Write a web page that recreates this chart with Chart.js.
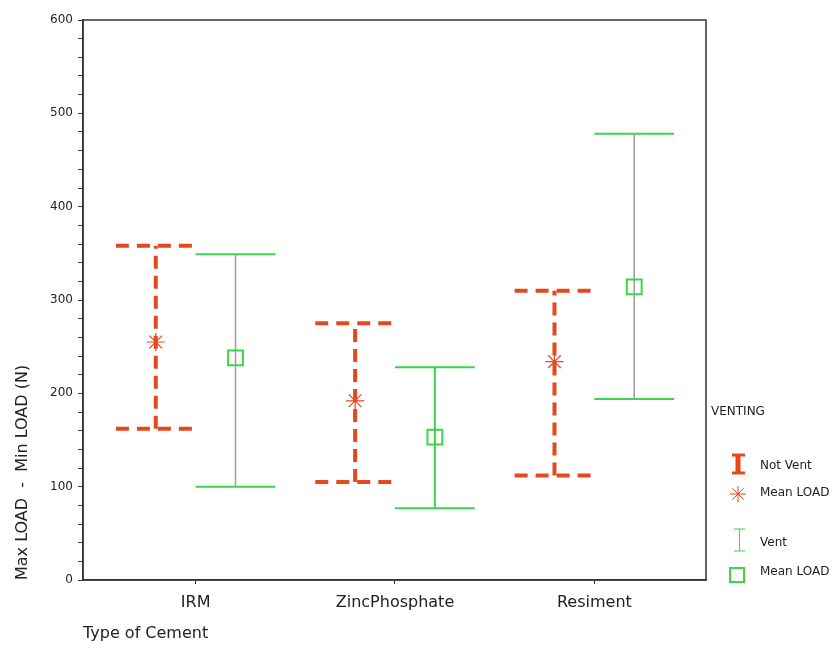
<!DOCTYPE html>
<html>
<head>
<meta charset="utf-8">
<script src="https://cdn.jsdelivr.net/npm/chart.js@4/dist/chart.umd.min.js"></script>
<style>
  html, body { margin: 0; padding: 0; background: #fff; }
  #wrap { width: 837px; height: 671px; position: relative; }
</style>
</head>
<body>
<div id="wrap"><canvas id="chart"></canvas></div>
<script>
// values (N)
const categories = ["IRM", "ZincPhosphate", "Resiment"];
const notVentMean = [255, 192, 234];
const notVentHigh = [358, 275, 310];
const notVentLow = [162, 105, 112];
const ventMean = [238, 153, 314];
const ventHigh = [349, 228, 478];
const ventLow = [100, 77, 194];
const yTicks = [0, 100, 200, 300, 400, 500, 600];

const ORANGE = "#e6481d";
const GREEN = "#3cd44a";
const GREY = "#9c9c9c";
const FONT = "'DejaVu Sans', Verdana, sans-serif";

// x offset of each series inside a category, and half width of the caps
const OFF = 0.2;
const CAP = 0.2;

function stems(off, lows, highs) {
  const pts = [];
  categories.forEach((c, i) => {
    pts.push({ x: i + off, y: lows[i] }, { x: i + off, y: highs[i] }, { x: i + off, y: null });
  });
  return pts;
}
function caps(off, lows, highs) {
  const pts = [];
  categories.forEach((c, i) => {
    [highs[i], lows[i]].forEach(v => {
      pts.push({ x: i + off - CAP, y: v }, { x: i + off + CAP, y: v }, { x: i + off, y: null });
    });
  });
  return pts;
}
function means(off, vals) {
  return vals.map((v, i) => ({ x: i + off, y: v }));
}

// zinc phosphate stem is green, the others grey
const ventStemColor = ctx => (Math.floor(ctx.p0DataIndex / 3) === 1 ? GREEN : GREY);
const ventStemWidth = ctx => (Math.floor(ctx.p0DataIndex / 3) === 1 ? 2 : 1.5);

const framePlugin = {
  id: "frame",
  afterDraw(chart) {
    const { ctx, chartArea: a } = chart;
    ctx.save();
    ctx.strokeStyle = "#333";
    ctx.lineWidth = 1.5;
    ctx.strokeRect(a.left, a.top, a.right - a.left, a.bottom - a.top);
    ctx.restore();
  }
};

const legendPlugin = {
  id: "ventLegend",
  afterDraw(chart) {
    const ctx = chart.ctx;
    ctx.save();
    ctx.fillStyle = "#222";
    ctx.font = "12px " + FONT;
    ctx.textBaseline = "middle";
    ctx.textAlign = "left";
    ctx.fillText("VENTING", 711, 412);

    const tx = 760;
    // not vent bar
    ctx.strokeStyle = ORANGE;
    ctx.lineWidth = 5;
    ctx.beginPath();
    ctx.moveTo(738, 455); ctx.lineTo(738, 474);
    ctx.stroke();
    ctx.lineWidth = 3;
    ctx.beginPath();
    ctx.moveTo(732, 455); ctx.lineTo(745, 455);
    ctx.moveTo(732, 473); ctx.lineTo(745, 473);
    ctx.stroke();
    ctx.fillText("Not Vent", tx, 466);

    // star
    ctx.lineWidth = 1;
    ctx.beginPath();
    const r = 8;
    for (let k = 0; k < 4; k++) {
      const ang = k * Math.PI / 4;
      ctx.moveTo(738 - r * Math.cos(ang), 494 - r * Math.sin(ang));
      ctx.lineTo(738 + r * Math.cos(ang), 494 + r * Math.sin(ang));
    }
    ctx.stroke();
    ctx.fillText("Mean LOAD", tx, 493);

    // vent bar
    ctx.strokeStyle = GREEN;
    ctx.lineWidth = 1;
    ctx.beginPath();
    ctx.moveTo(734, 529); ctx.lineTo(745, 529);
    ctx.moveTo(734, 551); ctx.lineTo(745, 551);
    ctx.stroke();
    ctx.strokeStyle = GREY;
    ctx.beginPath();
    ctx.moveTo(739.5, 529); ctx.lineTo(739.5, 551);
    ctx.stroke();
    ctx.fillText("Vent", tx, 543);

    // square
    ctx.strokeStyle = GREEN;
    ctx.lineWidth = 2;
    ctx.strokeRect(730, 568, 14, 14);
    ctx.fillText("Mean LOAD", tx, 572);
    ctx.restore();
  }
};

new Chart(document.getElementById("chart"), {
  type: "line",
  data: {
    datasets: [
      {
        label: "Mean LOAD (Not Vent)",
        data: means(-OFF, notVentMean),
        showLine: false,
        pointStyle: "star",
        pointRadius: 9,
        pointBorderWidth: 1.2,
        borderColor: ORANGE,
        backgroundColor: ORANGE,
      },
      {
        label: "Mean LOAD (Vent)",
        data: means(OFF, ventMean),
        showLine: false,
        pointStyle: "rect",
        pointRadius: 10.5,
        pointBorderWidth: 2,
        borderColor: GREEN,
        backgroundColor: "rgba(0,0,0,0)",
      },
      {
        label: "Not Vent stems",
        data: stems(-OFF, notVentLow, notVentHigh),
        borderColor: ORANGE,
        borderWidth: 4,
        borderDash: [13, 7],
        pointRadius: 0,
      },
      {
        label: "Not Vent caps",
        data: caps(-OFF, notVentLow, notVentHigh),
        borderColor: ORANGE,
        borderWidth: 4,
        borderDash: [13, 8],
        pointRadius: 0,
      },
      {
        label: "Vent stems",
        data: stems(OFF, ventLow, ventHigh),
        borderColor: GREY,
        borderWidth: 1.5,
        pointRadius: 0,
        segment: { borderColor: ventStemColor, borderWidth: ventStemWidth },
      },
      {
        label: "Vent caps",
        data: caps(OFF, ventLow, ventHigh),
        borderColor: GREEN,
        borderWidth: 2,
        pointRadius: 0,
      },
    ],
  },
  options: {
    responsive: true,
    maintainAspectRatio: false,
    animation: false,
    layout: { padding: { top: 20, right: 131, bottom: 0, left: 0 } },
    plugins: {
      legend: { display: false },
      tooltip: { enabled: false },
    },
    scales: {
      x: {
        type: "linear",
        min: -0.565,
        max: 2.56,
        afterBuildTicks: scale => { scale.ticks = categories.map((c, i) => ({ value: i })); },
        afterFit: scale => { scale.height = 91; },
        ticks: {
          callback: v => categories[v],
          color: "#222",
          font: { family: FONT, size: 16 },
          padding: 9,
          maxRotation: 0,
        },
        grid: { drawOnChartArea: false, tickLength: 4, color: "#333" },
        border: { color: "#333", width: 1.5 },
        title: {
          display: true,
          text: "Type of Cement",
          align: "start",
          color: "#222",
          font: { family: FONT, size: 16 },
          padding: { top: 4, bottom: 28 },
        },
      },
      y: {
        min: 0,
        max: 600,
        afterFit: scale => { scale.width = 83; },
        ticks: {
          stepSize: 20,
          autoSkip: false,
          callback: v => (yTicks.includes(v) ? v : ""),
          color: "#222",
          font: { family: FONT, size: 12 },
          padding: 5,
        },
        grid: { drawOnChartArea: false, tickLength: 5, color: "#333" },
        border: { color: "#333", width: 1.5 },
        title: {
          display: true,
          text: "Max LOAD  -  Min LOAD (N)",
          align: "start",
          color: "#222",
          font: { family: FONT, size: 16 },
          padding: { top: 13, bottom: 0 },
        },
      },
    },
  },
  plugins: [framePlugin, legendPlugin],
});
</script>
</body>
</html>
